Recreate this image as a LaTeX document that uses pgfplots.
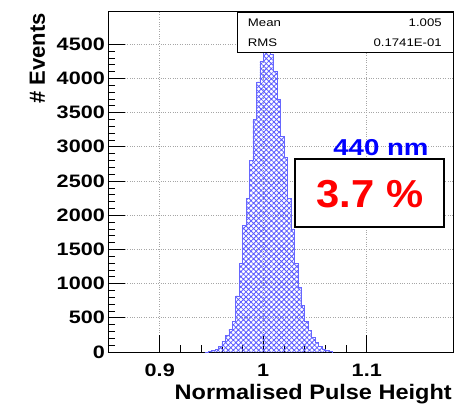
\documentclass[border=0pt]{standalone}
\usepackage{pgfplots}
\pgfplotsset{compat=1.18}
\usepackage{graphicx}
\usepackage{fontspec}
\setmainfont{Liberation Sans}
\usetikzlibrary{patterns.meta}
\newcommand\wide[2][1.2]{\scalebox{#1}[1]{#2}}
\begin{document}
\begin{tikzpicture}
\useasboundingbox (-108bp,-54bp) rectangle (362bp,352bp);
\begin{axis}[
  at={(0,0)}, anchor=south west,
  scale only axis, width=345bp, height=340bp,
  xmin=0.85, xmax=1.18333, ymin=0, ymax=4970,
  axis line style={line width=1pt, black},
  axis on top=false,
  tick align=inside, xtick pos=bottom, ytick pos=left,
  major tick length=17bp, minor tick length=7bp,
  tick style={black, line width=0.6pt},
  xtick={0.9,1,1.1}, xticklabels={\wide{0.9},\wide{1},\wide{1.1}},
  ytick={0,500,1000,1500,2000,2500,3000,3500,4000,4500},
  yticklabels={\wide{0},\wide{500},\wide{1000},\wide{1500},\wide{2000},\wide{2500},\wide{3000},\wide{3500},\wide{4000},\wide{4500}},
  minor x tick num=4, minor y tick num=4,
  grid=major, major grid style={dotted, gray!70, line width=0.6pt},
  ticklabel style={font=\fontsize{18bp}{20bp}\selectfont\bfseries},
  yticklabel style={anchor=east, inner sep=1bp, xshift=-2bp},
  xticklabel style={anchor=north, inner sep=0bp, yshift=-12bp},
  xlabel={\wide[1.12]{Normalised Pulse Height}},
  xlabel style={at={(rel axis cs:1,0)}, anchor=base east, yshift=-47bp, xshift=-1bp, inner sep=0pt, font=\fontsize{21bp}{24bp}\selectfont\bfseries},
  ylabel={\# Events},
  ylabel style={at={([xshift=-63bp,yshift=-1bp]rel axis cs:0,1)}, anchor=base east, inner sep=0pt, font=\fontsize{22bp}{24bp}\selectfont\bfseries},
  clip=false,
]
\addplot[const plot mark left, draw=blue!60, line width=0.5pt,
  pattern={Hatch[angle=45,distance=3.6pt,line width=0.8pt]}, pattern color=blue!65]
coordinates {
(0.943333,0) (0.946667,10) (0.950000,20) (0.953333,40) (0.956667,80)
(0.960000,150) (0.963333,240) (0.966667,330) (0.970000,450) (0.973333,820)
(0.976667,1300) (0.980000,1850) (0.983333,2250) (0.986667,2800) (0.990000,3400)
(0.993333,3950) (0.996667,4250) (1.000000,4400) (1.003333,4490) (1.006667,4350)
(1.010000,4100) (1.013333,3700) (1.016667,3150) (1.020000,2850) (1.023333,2250)
(1.026667,1800) (1.030000,1300) (1.033333,950) (1.036667,680) (1.040000,450)
(1.043333,320) (1.046667,210) (1.050000,140) (1.053333,80) (1.056667,45)
(1.060000,20) (1.063333,5) (1.066667,0)
};
% stats box
\draw[black, line width=0.6pt, fill=white] (rel axis cs:0.374,1) rectangle (rel axis cs:1,0.882);
\node[anchor=west, font=\fontsize{11bp}{12bp}\selectfont, inner sep=0pt] at (rel axis cs:0.405,0.968) {\wide{Mean}};
\node[anchor=west, font=\fontsize{11bp}{12bp}\selectfont, inner sep=0pt] at (rel axis cs:0.405,0.909) {\wide{RMS}};
\node[anchor=east, font=\fontsize{11bp}{12bp}\selectfont, inner sep=0pt] at (rel axis cs:0.968,0.968) {\wide{1.005}};
\node[anchor=east, font=\fontsize{11bp}{12bp}\selectfont, inner sep=0pt] at (rel axis cs:0.968,0.909) {\wide{0.1741E-01}};
% annotations
\node[text=blue, font=\fontsize{23bp}{26bp}\selectfont\bfseries, inner sep=0pt] at (rel axis cs:0.791,0.60) {\wide{440 nm}};
\draw[black, line width=1.5pt, fill=white] (rel axis cs:0.542,0.568) rectangle (rel axis cs:0.974,0.368);
\node[text=red, font=\fontsize{39bp}{42bp}\selectfont\bfseries, inner sep=0pt] at (rel axis cs:0.759,0.465) {\wide[1.07]{3.7 \%}};
\end{axis}
\end{tikzpicture}
\end{document}
